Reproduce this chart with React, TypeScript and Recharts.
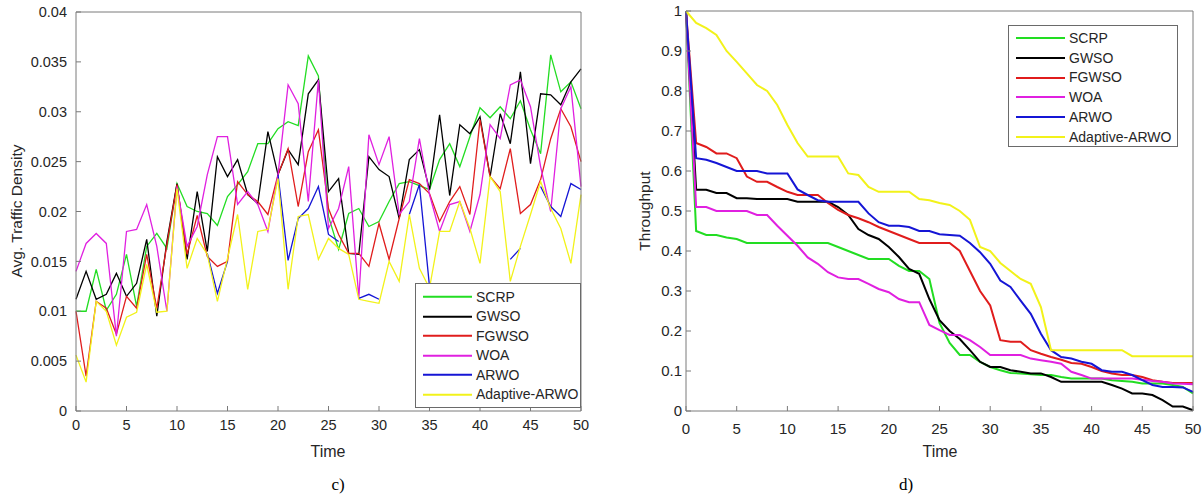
import React from 'react';
import { LineChart, Line, XAxis, YAxis, Legend } from 'recharts';

const timeSteps = [0,1,2,3,4,5,6,7,8,9,10,11,12,13,14,15,16,17,18,19,20,21,22,23,24,25,26,27,28,29,30,31,32,33,34,35,36,37,38,39,40,41,42,43,44,45,46,47,48,49,50];
const timeTicks = [0,5,10,15,20,25,30,35,40,45,50];
const densityTicks = [0,0.005,0.01,0.015,0.02,0.025,0.03,0.035,0.04];
const throughputTicks = [0,0.1,0.2,0.3,0.4,0.5,0.6,0.7,0.8,0.9,1];

const seriesNames = ['SCRP','GWSO','FGWSO','WOA','ARWO','Adaptive-ARWO'];
const seriesColors = ['#22dd22','#000000','#e01c1c','#e020e0','#1515d5','#f2f21a'];

const densitySCRP = [0.0100,0.0100,0.0142,0.0101,0.0117,0.0157,0.0105,0.0165,0.0178,0.0163,
 0.0228,0.0205,0.0200,0.0198,0.0186,0.0215,0.0227,0.0240,0.0268,0.0268,
 0.0283,0.0290,0.0286,0.0356,0.0336,0.0195,0.0162,0.0198,0.0203,0.0185,
 0.0190,0.0210,0.0228,0.0230,0.0226,0.0222,0.0252,0.0268,0.0245,0.0275,
 0.0304,0.0294,0.0305,0.0293,0.0311,0.0282,0.0258,0.0357,0.0320,0.0330,
 0.0303];
const densityGWSO = [0.0112,0.0140,0.0112,0.0117,0.0138,0.0115,0.0128,0.0172,0.0095,0.0170,
 0.0228,0.0152,0.0220,0.0160,0.0255,0.0235,0.0252,0.0217,0.0208,0.0280,
 0.0237,0.0262,0.0247,0.0318,0.0332,0.0220,0.0233,0.0158,0.0157,0.0255,
 0.0242,0.0235,0.0193,0.0252,0.0262,0.0222,0.0297,0.0216,0.0287,0.0278,
 0.0295,0.0235,0.0298,0.0268,0.0340,0.0248,0.0318,0.0317,0.0307,0.0330,
 0.0343];
const densityFGWSO = [0.0100,0.0035,0.0110,0.0103,0.0077,0.0115,0.0103,0.0157,0.0103,0.0167,
 0.0227,0.0157,0.0196,0.0155,0.0145,0.0150,0.0230,0.0217,0.0210,0.0197,
 0.0237,0.0263,0.0205,0.0260,0.0282,0.0203,0.0177,0.0158,0.0158,0.0145,
 0.0188,0.0152,0.0193,0.0232,0.0228,0.0218,0.0190,0.0210,0.0225,0.0197,
 0.0292,0.0235,0.0223,0.0263,0.0198,0.0207,0.0232,0.0273,0.0303,0.0285,
 0.0250];
const densityWOA = [0.0140,0.0168,0.0178,0.0168,0.0075,0.0180,0.0182,0.0207,0.0165,0.0100,
 0.0225,0.0165,0.0185,0.0237,0.0275,0.0275,0.0207,0.0220,0.0207,0.0180,
 0.0237,0.0327,0.0308,0.0210,0.0332,0.0183,0.0203,0.0245,0.0113,0.0277,
 0.0247,0.0275,0.0197,0.0210,0.0273,0.0217,0.0180,0.0207,0.0210,0.0180,
 0.0217,0.0287,0.0273,0.0327,0.0332,0.0305,0.0245,0.0200,0.0303,0.0325,
 0.0225];
const densityARWO = [null,null,null,null,null,null,null,null,null,null,
 null,null,null,0.0158,0.0118,0.0150,null,null,null,null,
 0.0237,0.0151,0.0193,0.0203,0.0225,0.0177,0.0170,null,0.0113,0.0117,
 0.0112,null,null,0.0197,0.0227,0.0125,null,null,null,null,
 null,null,null,0.0152,0.0163,null,0.0225,0.0205,0.0195,0.0228,
 0.0222];
const densityAdaptive = [0.0056,0.0029,0.0110,0.0100,0.0066,0.0094,0.0099,0.0147,0.0099,0.0100,
 0.0223,0.0143,0.0173,0.0157,0.0110,0.0153,0.0197,0.0122,0.0180,0.0182,
 0.0233,0.0122,0.0195,0.0197,0.0152,0.0173,0.0163,0.0157,0.0112,0.0110,
 0.0108,0.0150,0.0130,0.0197,0.0143,0.0123,0.0180,0.0180,0.0210,0.0183,
 0.0148,0.0235,0.0220,0.0130,0.0165,0.0197,0.0230,0.0203,0.0183,0.0148,
 0.0217];

const throughputSCRP = [1.0,0.45,0.44,0.44,0.434,0.43,0.42,0.42,0.42,0.42,
 0.42,0.42,0.42,0.42,0.42,0.41,0.40,0.39,0.38,0.38,
 0.38,0.363,0.35,0.35,0.33,0.22,0.17,0.14,0.14,0.123,
 0.11,0.102,0.095,0.094,0.092,0.09,0.09,0.085,0.081,0.081,
 0.081,0.081,0.077,0.075,0.073,0.069,0.069,0.069,0.065,0.06,
 0.044];
const throughputGWSO = [1.0,0.553,0.553,0.545,0.545,0.532,0.532,0.53,0.53,0.53,
 0.53,0.523,0.523,0.523,0.523,0.51,0.49,0.455,0.44,0.43,
 0.41,0.385,0.355,0.343,0.28,0.227,0.2,0.18,0.152,0.123,
 0.11,0.11,0.102,0.098,0.094,0.094,0.085,0.073,0.073,0.073,
 0.073,0.073,0.065,0.056,0.044,0.044,0.04,0.027,0.011,0.011,
 0.002];
const throughputFGWSO = [1.0,0.67,0.66,0.644,0.644,0.632,0.586,0.573,0.573,0.56,
 0.548,0.54,0.54,0.54,0.52,0.503,0.49,0.482,0.472,0.46,
 0.45,0.44,0.43,0.42,0.42,0.42,0.42,0.40,0.35,0.30,
 0.264,0.177,0.173,0.173,0.152,0.143,0.135,0.128,0.12,0.118,
 0.11,0.1,0.094,0.09,0.09,0.085,0.077,0.073,0.07,0.07,
 0.07];
const throughputWOA = [1.0,0.51,0.51,0.50,0.50,0.50,0.50,0.49,0.49,0.463,
 0.438,0.413,0.384,0.368,0.347,0.334,0.33,0.33,0.318,0.305,
 0.297,0.28,0.272,0.272,0.215,0.202,0.19,0.19,0.177,0.16,
 0.14,0.14,0.14,0.14,0.131,0.127,0.123,0.118,0.098,0.09,
 0.081,0.081,0.081,0.081,0.081,0.078,0.075,0.073,0.069,0.068,
 0.067];
const throughputARWO = [1.0,0.632,0.628,0.62,0.61,0.60,0.60,0.60,0.594,0.594,
 0.594,0.554,0.54,0.527,0.523,0.523,0.523,0.523,0.494,0.472,
 0.463,0.463,0.46,0.45,0.45,0.442,0.44,0.438,0.42,0.397,
 0.368,0.326,0.31,0.276,0.243,0.193,0.152,0.135,0.131,0.123,
 0.118,0.102,0.098,0.098,0.09,0.077,0.065,0.06,0.06,0.059,
 0.048];
const throughputAdaptive = [1.0,0.97,0.957,0.94,0.90,0.873,0.844,0.815,0.80,0.765,
 0.715,0.67,0.636,0.636,0.636,0.636,0.594,0.59,0.56,0.548,
 0.548,0.548,0.548,0.53,0.527,0.52,0.515,0.5,0.478,0.41,
 0.40,0.37,0.35,0.33,0.318,0.26,0.152,0.152,0.152,0.152,
 0.152,0.152,0.152,0.152,0.137,0.137,0.137,0.137,0.137,0.137,
 0.137];

const densitySeries = [densitySCRP, densityGWSO, densityFGWSO, densityWOA, densityARWO, densityAdaptive];
const throughputSeries = [throughputSCRP, throughputGWSO, throughputFGWSO, throughputWOA, throughputARWO, throughputAdaptive];

function buildRows(series: (number | null)[][]) {
  return timeSteps.map((t, i) => {
    const row: Record<string, number | null> = { t };
    seriesNames.forEach((name, k) => { row[name] = series[k][i]; });
    return row;
  });
}

const densityData = buildRows(densitySeries);
const throughputData = buildRows(throughputSeries);

const SANS = '"Liberation Sans", Arial, Helvetica, sans-serif';
const AXIS = '#7a7a7a';
const TEXT = '#262626';

function LegendBox(props: { width: number; height: number; padTop: number; rowH: number }) {
  const { width, height, padTop, rowH } = props;
  return (
    <div style={{ width, height, boxSizing: 'border-box', border: '1px solid #6a6a6a', background: '#fff', paddingTop: padTop, fontFamily: SANS, fontSize: 14, color: TEXT }}>
      {seriesNames.map((name, i) => (
        <div key={name} style={{ display: 'flex', alignItems: 'center', height: rowH }}>
          <svg width={57} height={rowH} style={{ flex: 'none', display: 'block' }}>
            <line x1={7} x2={56} y1={rowH / 2} y2={rowH / 2} stroke={seriesColors[i]} strokeWidth={2} />
          </svg>
          <span style={{ marginLeft: 3, whiteSpace: 'nowrap', lineHeight: 1 }}>{name}</span>
        </div>
      ))}
    </div>
  );
}

function TextAt(props: { x: number; y: number; text: string; size: number; rotate?: boolean; serif?: boolean }) {
  const { x, y, text, size, rotate, serif } = props;
  return (
    <div style={{ position: 'absolute', left: x, top: y, transform: `translate(-50%, -50%)${rotate ? ' rotate(-90deg)' : ''}`, whiteSpace: 'nowrap', lineHeight: 1, fontSize: size, fontFamily: serif ? '"Liberation Serif", "Times New Roman", serif' : SANS, color: serif ? '#000' : TEXT }}>
      {text}
    </div>
  );
}

export default function App() {
  return (
    <div style={{ position: 'absolute', left: 0, top: 0, width: 1204, height: 495, background: '#fff', overflow: 'hidden' }}>
      <div style={{ position: 'absolute', left: 0, top: 0 }}>
        <LineChart width={600} height={495} data={densityData} margin={{ top: 11, right: 18, bottom: 54, left: 0 }}>
          <XAxis dataKey="t" type="number" domain={[0, 50]} ticks={timeTicks} interval={0} height={30}
            stroke={AXIS} tickSize={-5} tickMargin={14} tick={{ fontSize: 14.5, fill: TEXT, fontFamily: SANS }} />
          <XAxis xAxisId="top" orientation="top" dataKey="t" type="number" domain={[0, 50]} ticks={timeTicks} interval={0} height={1}
            stroke={AXIS} tickSize={-5} tick={false} />
          <YAxis type="number" domain={[0, 0.04]} ticks={densityTicks} interval={0} width={76}
            stroke={AXIS} tickSize={-5} tickMargin={14} tick={{ fontSize: 14.5, fill: TEXT, fontFamily: SANS }} />
          <YAxis yAxisId="right" orientation="right" type="number" domain={[0, 0.04]} ticks={densityTicks} interval={0} width={1}
            stroke={AXIS} tickSize={-5} tick={false} />
          {seriesNames.map((name, i) => (
            <Line key={name} dataKey={name} name={name} type="linear" stroke={seriesColors[i]} strokeWidth={1.3}
              dot={false} activeDot={false} isAnimationActive={false} connectNulls={false} />
          ))}
          <Legend layout="horizontal" verticalAlign="middle" align="center"
            wrapperStyle={{ left: 415, top: 283, width: 166, height: 125 }}
            content={() => <LegendBox width={166} height={125} padTop={3} rowH={19.5} />} />
        </LineChart>
      </div>
      <div style={{ position: 'absolute', left: 604, top: 0 }}>
        <LineChart width={600} height={495} data={throughputData} margin={{ top: 10, right: 10, bottom: 54, left: 0 }}>
          <XAxis dataKey="t" type="number" domain={[0, 50]} ticks={timeTicks} interval={0} height={30}
            stroke={AXIS} tickSize={-5} tickMargin={17} tick={{ fontSize: 15, fill: TEXT, fontFamily: SANS }} />
          <XAxis xAxisId="top" orientation="top" dataKey="t" type="number" domain={[0, 50]} ticks={timeTicks} interval={0} height={1}
            stroke={AXIS} tickSize={-5} tick={false} />
          <YAxis type="number" domain={[0, 1]} ticks={throughputTicks} interval={0} width={82}
            stroke={AXIS} tickSize={-5} tickMargin={9} tick={{ fontSize: 15, fill: TEXT, fontFamily: SANS }} />
          <YAxis yAxisId="right" orientation="right" type="number" domain={[0, 1]} ticks={throughputTicks} interval={0} width={1}
            stroke={AXIS} tickSize={-5} tick={false} />
          {seriesNames.map((name, i) => (
            <Line key={name} dataKey={name} name={name} type="linear" stroke={seriesColors[i]} strokeWidth={2}
              dot={false} activeDot={false} isAnimationActive={false} />
          ))}
          <Legend layout="horizontal" verticalAlign="middle" align="center"
            wrapperStyle={{ left: 404, top: 25, width: 170, height: 122 }}
            content={() => <LegendBox width={170} height={122} padTop={2} rowH={19.8} />} />
        </LineChart>
      </div>
      <TextAt x={328} y={452} text="Time" size={16} />
      <TextAt x={17} y={211} text="Avg. Traffic Density" size={15.5} rotate />
      <TextAt x={940} y={452} text="Time" size={16} />
      <TextAt x={645} y={211} text="Throughput" size={15.5} rotate />
      <TextAt x={338} y={484} text="c)" size={17} serif />
      <TextAt x={906} y={484} text="d)" size={17} serif />
    </div>
  );
}
